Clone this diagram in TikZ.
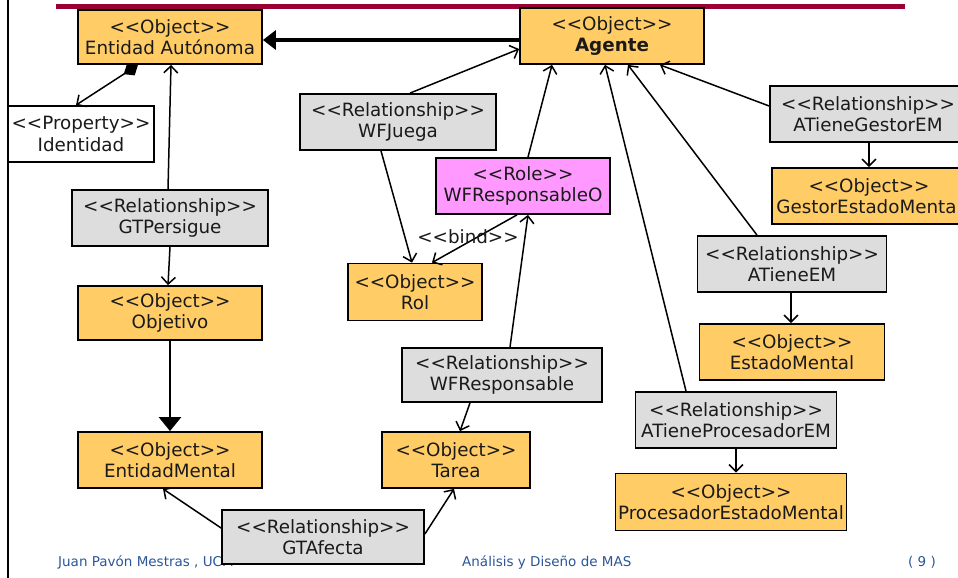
\documentclass[tikz,border=0pt]{standalone}
\usepackage{fontspec}
\setmainfont{DejaVu Sans}
\usetikzlibrary{arrows.meta}
\definecolor{objfill}{HTML}{FFCC66}
\definecolor{relfill}{HTML}{DDDDDD}
\definecolor{rolefill}{HTML}{FF99FF}
\definecolor{barred}{HTML}{990033}
\definecolor{footblue}{HTML}{2A5599}
\definecolor{inktext}{HTML}{1A1A1A}
% stereotype label, written with plain angle brackets (no guillemet ligature)
\newcommand{\stype}[1]{<{}<#1>{}>}

\begin{document}
\begin{tikzpicture}[x=1pt,y=-1pt,
  box/.style={draw=black, line width=1.8pt, align=center, inner sep=0pt,
    font=\fontsize{18.3}{21.5}\selectfont, text=inktext},
  objbox/.style={box, fill=objfill},
  relbox/.style={box, fill=relfill},
  propbox/.style={box, fill=white},
  rolebox/.style={box, fill=rolefill},
  sz/.style 2 args={minimum width=#1pt, minimum height=#2pt},
  conn/.style={line width=1.5pt,
    -{Straight Barb[length=7pt,width=14pt,line width=1.5pt]}},
  heavy/.style={line width=3.5pt, -{Triangle[length=13pt,width=19pt]}},
  heavybig/.style={line width=2.5pt, -{Triangle[length=14pt,width=22pt]}},
  aggreg/.style={line width=1.5pt,
    {Diamond[length=17pt,width=14pt]}-{Straight Barb[length=7pt,width=14pt,line width=1.5pt]}},
  footer/.style={font=\fontsize{13.5}{16}\selectfont, text=footblue, inner sep=0pt},
  lbl/.style={font=\fontsize{18.3}{21.5}\selectfont, text=inktext, inner sep=0pt}
]
\useasboundingbox (0,0) rectangle (958,578);
\clip (0,0) rectangle (958,578);

% slide frame: left rule and title bar
\coordinate (frametop) at (8,0);
\coordinate (framebot) at (8,578);
\draw[line width=1.8pt] (frametop) -- (framebot);
\coordinate (barL) at (56,6.5);
\coordinate (barR) at (905,6.5);
\draw[barred, line width=5pt] (barL) -- (barR);

% footer
\node[footer, anchor=base west] (author) at (58,566) {Juan Pavón Mestras , UCM};
\node[footer, anchor=base west] (course) at (462,566) {Análisis y Diseño de MAS};
\node[footer, anchor=base east] (page) at (936,566) {( 9 )};

% entities
\node[objbox, sz={184}{54}] (ea) at (170,37) {\stype{Object}\\Entidad Autónoma};
\node[objbox, sz={184}{56}] (ag) at (612,36) {\stype{Object}\\\textbf{Agente}};
\node[propbox, sz={146}{56}] (id) at (81,134) {\stype{Property}\\Identidad};
\node[relbox, sz={196}{56}] (gtp) at (170,218) {\stype{Relationship}\\GTPersigue};
\node[objbox, sz={184}{54}] (obj) at (170,313) {\stype{Object}\\Objetivo};
\node[objbox, sz={184}{56}] (em) at (170,460) {\stype{Object}\\EntidadMental};
\node[relbox, sz={202}{54}] (gta) at (323,537) {\stype{Relationship}\\GTAfecta};
\node[objbox, sz={148}{56}] (tar) at (456,460) {\stype{Object}\\Tarea};
\node[relbox, sz={200}{54}] (wfr) at (502,375) {\stype{Relationship}\\WFResponsable};
\node[rolebox, sz={174}{56}] (wfro) at (523,186) {\stype{Role}\\WFResponsableO};
\node[relbox, sz={196}{56}] (wfj) at (398,122) {\stype{Relationship}\\WFJuega};
\node[objbox, sz={134}{57}] (rol) at (415,292) {\stype{Object}\\Rol};
\node[relbox, sz={196}{56}] (atg) at (868,114) {\stype{Relationship}\\ATieneGestorEM};
\node[objbox, sz={194}{56}] (gem) at (869,196) {\stype{Object}\\GestorEstadoMental};
\node[relbox, sz={189}{56}] (atem) at (792,264) {\stype{Relationship}\\ATieneEM};
\node[objbox, sz={185}{56}] (estm) at (792,352) {\stype{Object}\\EstadoMental};
\node[relbox, sz={201}{56}] (atp) at (736,420) {\stype{Relationship}\\ATieneProcesadorEM};
\node[objbox, sz={231}{57}] (pem) at (731,502) {\stype{Object}\\ProcesadorEstadoMental};

% inheritance and aggregation
\draw[heavy] ([yshift=-4pt]ag.west) -- ([yshift=-3pt]ea.east);
\draw[heavybig] (obj.south) -- (em.north);
\draw[aggreg] ([xshift=-32pt]ea.south) -- ([xshift=-5pt]id.north);

% relationships
\draw[conn] ([xshift=-2pt]gtp.north) -- ([xshift=1pt]ea.south);
\draw[conn] (gtp.south) -- ([xshift=-2pt]obj.north);
\draw[conn] ([yshift=9pt]gta.west) -- ([xshift=-7pt]em.south);
\draw[conn] ([yshift=3pt]gta.east) -- ([xshift=-2pt]tar.south);
\draw[conn] ([xshift=-32pt]wfr.south) -- ([xshift=4pt]tar.north);
\draw[conn] ([xshift=8pt]wfr.north) -- ([xshift=5pt]wfro.south);
\draw[conn] ([xshift=5pt]wfro.north) -- ([xshift=-60pt]ag.south);
\draw[conn] ([xshift=12pt]wfj.north) -- ([yshift=-13pt]ag.west);
\draw[conn] ([xshift=-17pt]wfj.south) -- ([xshift=-3pt]rol.north);
\draw[conn] ([xshift=-6pt]wfro.south) -- ([xshift=17pt]rol.north);
\node[lbl] (bind) at (468,237) {\stype{bind}};
\draw[conn] ([xshift=-50pt]atp.north) -- ([xshift=-7pt]ag.south);
\draw[conn] ([xshift=-35pt]atem.north) -- ([xshift=16pt]ag.south);
\draw[conn] ([yshift=8pt]atg.west) -- ([xshift=48pt]ag.south);
\draw[conn] ([xshift=1pt]atg.south) -- (gem.north);
\draw[conn] ([xshift=-1pt]atem.south) -- ([xshift=-1pt]estm.north);
\draw[conn] (atp.south) -- ([xshift=5pt]pem.north);
\end{tikzpicture}
\end{document}
